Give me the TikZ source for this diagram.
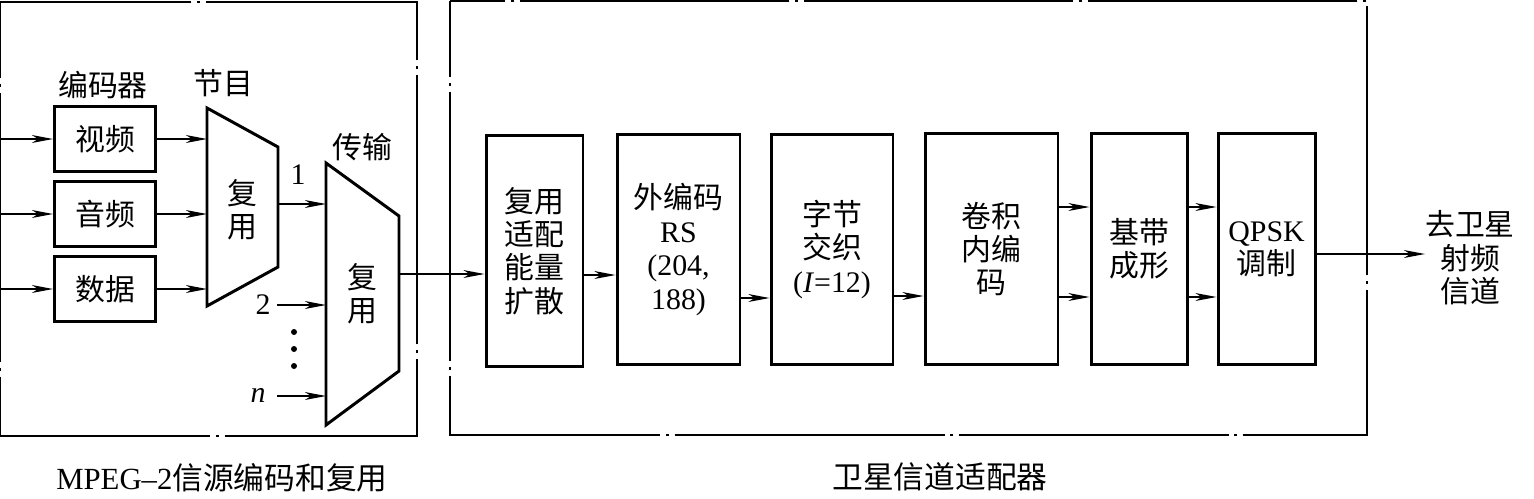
\documentclass[tikz,border=0pt]{standalone}
\usepackage{fontspec}
\setmainfont{Liberation Serif}
\newfontfamily\cjk{Noto Sans CJK SC}
\usetikzlibrary{arrows.meta}

\begin{document}
\begin{tikzpicture}
  [x=0.02cm,y=-0.02cm,
   every node/.style={inner sep=0pt,align=center,font=\fontsize{17}{19}\selectfont},
   blk/.style={draw,line width=1.7pt},
   frame/.style={line width=1pt,dash pattern=on 5.4cm off 3pt on 2pt off 3pt},
   arr/.style={-{Stealth[length=12pt,width=4.5pt,inset=3.5pt]},line width=0.7pt},
   captxt/.style={font=\fontsize{17.5}{20}\selectfont}]
  \useasboundingbox (0,0) rectangle (1534,498);

  % Rahmen
  \draw[frame,dash phase=3.87cm] (0,2) rectangle (417,436);
  \draw[frame,dash phase=3.87cm] (450,1) rectangle (1367,435);

  % Quellcodierung
  \node (kodlbl) at (103,85) {\cjk 编码器};
  \node[blk,minimum width=2.02cm,minimum height=1.3cm] (vid) at (105,139) {\cjk 视频};
  \node[blk,minimum width=2.02cm,minimum height=1.3cm] (aud) at (105,214) {\cjk 音频};
  \node[blk,minimum width=2.02cm,minimum height=1.3cm] (dat) at (105,289) {\cjk 数据};
  \coordinate (in1) at (0,139);
  \coordinate (in2) at (0,214);
  \coordinate (in3) at (0,289);

  % Programm-Multiplexer
  \draw[line width=1.7pt] (207,108) -- (278,147) -- (278,267) -- (207,306) -- cycle;
  \node (pmlbl) at (223,83) {\cjk 节目};
  \node (pm) at (242,210) {\cjk 复\\\cjk 用};
  \coordinate (pm1) at (207,139);
  \coordinate (pm2) at (207,214);
  \coordinate (pm3) at (207,289);
  \coordinate (pmout) at (278,204);

  % Transport-Multiplexer
  \draw[line width=1.7pt] (326,163) -- (399,216) -- (399,371) -- (326,425) -- cycle;
  \node (tmlbl) at (362,147) {\cjk 传输};
  \node (tm) at (362,294) {\cjk 复\\\cjk 用};
  \coordinate (tm1) at (326,204);
  \coordinate (tm2) at (326,305);
  \coordinate (tmn) at (326,396);
  \coordinate (tmout) at (399,274);
  \node (n1) at (298,175) {1};
  \node (n2) at (263,305) {2};
  \node (nn) at (258,395) {\itshape n};
  \coordinate (src2) at (277,305);
  \coordinate (srcn) at (277,396);
  \foreach \y in {332,349,366}
    \fill (294,\y) circle (3);

  % Kanaladapter
  \node[blk,minimum width=1.94cm,minimum height=4.64cm] (fy) at (534.5,251)
    {\cjk 复用\\\cjk 适配\\\cjk 能量\\\cjk 扩散};
  \node[blk,minimum width=2.46cm,minimum height=4.62cm] (rs) at (678.5,249.5)
    {\cjk 外编码\\RS\\(204,\\188)};
  \node[blk,minimum width=2.44cm,minimum height=4.62cm] (il) at (832,249.5)
    {\cjk 字节\\\cjk 交织\\(\textit{I}=12)};
  \node[blk,minimum width=2.66cm,minimum height=4.64cm] (cv) at (991.5,249)
    {\cjk 卷积\\\cjk 内编\\\cjk 码};
  \node[blk,minimum width=1.92cm,minimum height=4.64cm] (bb) at (1139,249)
    {\cjk 基带\\\cjk 成形};
  \node[blk,minimum width=1.94cm,minimum height=4.64cm] (qp) at (1266.5,249)
    {QPSK\\\cjk 调制};
  \node (sat) at (1470,258) {\cjk 去卫星\\\cjk 射频\\\cjk 信道};
  \coordinate (satin) at (1425,254);

  % Zeilen
  \coordinate (r1) at (0,275);
  \coordinate (r2) at (0,298);
  \coordinate (r3) at (0,296);
  \coordinate (r4) at (0,207);
  \coordinate (r5) at (0,297);
  \coordinate (r6) at (0,254);

  % Pfeile
  \draw[arr] (in1) -- (vid);
  \draw[arr] (in2) -- (aud);
  \draw[arr] (in3) -- (dat);
  \draw[arr] (vid) -- (pm1);
  \draw[arr] (aud) -- (pm2);
  \draw[arr] (dat) -- (pm3);
  \draw[arr] (pmout) -- (tm1);
  \draw[arr] (src2) -- (tm2);
  \draw[arr] (srcn) -- (tmn);
  \draw[arr] (tmout) -- (tmout -| fy.west);
  \draw[arr] (fy.east |- r1) -- (rs.west |- r1);
  \draw[arr] (rs.east |- r2) -- (il.west |- r2);
  \draw[arr] (il.east |- r3) -- (cv.west |- r3);
  \draw[arr] (cv.east |- r4) -- (bb.west |- r4);
  \draw[arr] (cv.east |- r5) -- (bb.west |- r5);
  \draw[arr] (bb.east |- r4) -- (qp.west |- r4);
  \draw[arr] (bb.east |- r5) -- (qp.west |- r5);
  \draw[arr] (qp.east |- r6) -- (satin);

  % Beschriftungen
  \node[captxt] (cap1) at (222,478) {MPEG–2{\cjk 信源编码和复用}};
  \node[captxt] (cap2) at (940,477) {\cjk 卫星信道适配器};
\end{tikzpicture}
\end{document}
